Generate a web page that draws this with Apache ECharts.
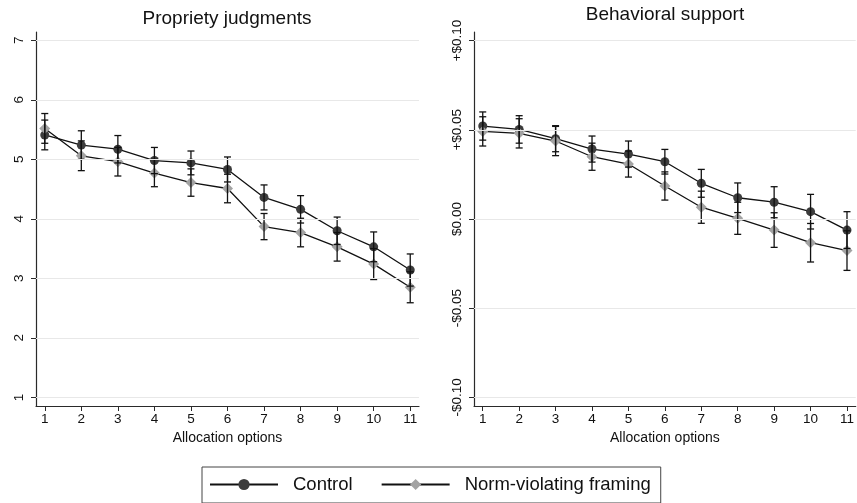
<!DOCTYPE html>
<html>
<head>
<meta charset="utf-8">
<script src="https://cdn.jsdelivr.net/npm/echarts@6/dist/echarts.min.js"></script>
<style>
html,body{margin:0;padding:0;background:#fff;}
#chart{width:857px;height:503px;}
</style>
</head>
<body>
<div id="chart"></div>
<script>
// ---- data ----
var categories = [1,2,3,4,5,6,7,8,9,10,11];
var xTicks = [1,2,3,4,5,6,7,8,9,10,11];
var propTicks = [1,2,3,4,5,6,7];
var behavTicks = [-0.10,-0.05,0,0.05,0.10];

var propCtrl   = [5.41,5.24,5.17,4.98,4.94,4.83,4.36,4.16,3.80,3.53,3.14];
var propCtrlLo = [5.16,5.00,4.94,4.76,4.74,4.62,4.15,3.93,3.57,3.28,2.87];
var propCtrlHi = [5.66,5.48,5.40,5.20,5.14,5.04,4.57,4.39,4.03,3.78,3.41];
var propNorm   = [5.52,5.06,4.96,4.77,4.61,4.51,3.87,3.77,3.53,3.24,2.85];
var propNormLo = [5.27,4.81,4.72,4.54,4.38,4.27,3.65,3.53,3.29,2.98,2.59];
var propNormHi = [5.77,5.31,5.20,5.00,4.84,4.75,4.09,4.01,3.77,3.50,3.11];

var behCtrl   = [0.0521,0.0502,0.0450,0.0392,0.0364,0.0321,0.0200,0.0119,0.0094,0.0041,-0.0062];
var behCtrlLo = [0.0442,0.0425,0.0377,0.0319,0.0291,0.0252,0.0122,0.0036,0.0007,-0.0056,-0.0165];
var behCtrlHi = [0.0600,0.0579,0.0523,0.0465,0.0437,0.0390,0.0278,0.0202,0.0181,0.0138,0.0041];
var behNorm   = [0.0491,0.0480,0.0437,0.0349,0.0308,0.0185,0.0066,0.0004,-0.0062,-0.0133,-0.0177];
var behNormLo = [0.0409,0.0398,0.0355,0.0273,0.0235,0.0106,-0.0024,-0.0086,-0.0159,-0.0241,-0.0288];
var behNormHi = [0.0573,0.0562,0.0519,0.0425,0.0381,0.0264,0.0156,0.0094,0.0035,-0.0025,-0.0066];

var seriesNames = ['Control','Norm-violating framing'];
var titles = ['Propriety judgments','Behavioral support'];
var xName = 'Allocation options';

// ---- styling ----
var FONT = '"Liberation Sans", Arial, sans-serif';
var CTRL_COLOR = '#3c3c3c';
var NORM_COLOR = '#a3a3a3';
var AXIS_COLOR = '#2a2a2a';
var GRID_COLOR = '#e8e8e8';

function pairs(xs, ys){ return xs.map(function(x,i){ return [x, ys[i]]; }); }
function triples(xs, lo, hi){ return xs.map(function(x,i){ return [x, lo[i], hi[i]]; }); }

function fmtMoney(v){
  if (Math.abs(v) < 1e-9) return '$0.00';
  return (v > 0 ? '+$' : '-$') + Math.abs(v).toFixed(2);
}

function errRender(params, api){
  var x = api.value(0);
  var lo = api.coord([x, api.value(1)]);
  var hi = api.coord([x, api.value(2)]);
  var w = 3.5;
  var st = {stroke:'#111', lineWidth:1.3};
  return {type:'group', children:[
    {type:'line', shape:{x1:lo[0],y1:lo[1],x2:hi[0],y2:hi[1]}, style:st},
    {type:'line', shape:{x1:lo[0]-w,y1:lo[1],x2:lo[0]+w,y2:lo[1]}, style:st},
    {type:'line', shape:{x1:hi[0]-w,y1:hi[1],x2:hi[0]+w,y2:hi[1]}, style:st}
  ]};
}

function xAxisCfg(gi){
  return {
    type:'value', gridIndex:gi, min:0.76, max:11.24,
    axisLine:{show:true, onZero:false, lineStyle:{color:AXIS_COLOR, width:1.2}},
    axisTick:{show:true, customValues:xTicks, length:5, lineStyle:{color:AXIS_COLOR}},
    axisLabel:{customValues:xTicks, margin:6, fontFamily:FONT, fontSize:13.5, color:'#111'},
    splitLine:{show:false},
    name:xName, nameLocation:'middle', nameGap:21,
    nameTextStyle:{fontFamily:FONT, fontSize:14, color:'#111', verticalAlign:'top'}
  };
}

function yAxisCfg(gi, min, max, ticks, fmt){
  return {
    type:'value', gridIndex:gi, min:min, max:max,
    axisLine:{show:true, onZero:false, lineStyle:{color:AXIS_COLOR, width:1.2}},
    axisTick:{show:true, customValues:ticks, length:5, lineStyle:{color:AXIS_COLOR}},
    axisLabel:{customValues:ticks, rotate:90, margin:10, fontFamily:FONT, fontSize:13.5, color:'#111',
               formatter: fmt},
    splitLine:{show:false}
  };
}

function gridLines(gi, ticks){
  return {
    type:'line', xAxisIndex:gi, yAxisIndex:gi, data:[], z:0, silent:true,
    markLine:{silent:true, symbol:'none', label:{show:false},
      lineStyle:{color:GRID_COLOR, width:1.2, type:'solid'},
      emphasis:{disabled:true},
      data: ticks.map(function(v){ return {yAxis:v}; })}
  };
}

function lineSeries(gi, name, ys, color, symbol, size){
  return {
    type:'line', name:name, xAxisIndex:gi, yAxisIndex:gi,
    data: pairs(categories, ys), symbol:symbol, symbolSize:size,
    lineStyle:{color:'#111', width:1.3}, itemStyle:{color:color},
    z:2, animation:false
  };
}

function errSeries(gi, lo, hi){
  return {
    type:'custom', xAxisIndex:gi, yAxisIndex:gi, renderItem:errRender,
    data: triples(categories, lo, hi), z:3, silent:true, animation:false
  };
}

var chart = echarts.init(document.getElementById('chart'), null, {renderer:'canvas'});
chart.setOption({
  animation:false,
  backgroundColor:'#fff',
  title:[
    {text:titles[0], left:227, top:9, textAlign:'center', padding:0,
     textStyle:{fontFamily:FONT, fontSize:19, fontWeight:'normal', color:'#111'}},
    {text:titles[1], left:665, top:5, textAlign:'center', padding:0,
     textStyle:{fontFamily:FONT, fontSize:19, fontWeight:'normal', color:'#111'}}
  ],
  legend:{
    data:seriesNames, left:202, top:467,
    orient:'horizontal',
    itemWidth:68, itemHeight:14, itemGap:28,
    padding:[8,10,9,7],
    borderColor:'#444', borderWidth:1,
    textStyle:{fontFamily:FONT, fontSize:18.5, color:'#111', padding:[0,0,0,10]},
    selectedMode:false
  },
  grid:[
    {left:36, right:438, top:32, bottom:97},
    {left:474, right:0, top:32, bottom:97}
  ],
  xAxis:[xAxisCfg(0), xAxisCfg(1)],
  yAxis:[
    yAxisCfg(0, 0.855, 7.14, propTicks, function(v){ return String(Math.round(v)); }),
    yAxisCfg(1, -0.1048, 0.1048, behavTicks, fmtMoney)
  ],
  series:[
    gridLines(0, propTicks),
    gridLines(1, behavTicks),
    lineSeries(0, seriesNames[0], propCtrl, CTRL_COLOR, 'circle', 9),
    lineSeries(0, seriesNames[1], propNorm, NORM_COLOR, 'diamond', 11),
    errSeries(0, propCtrlLo, propCtrlHi),
    errSeries(0, propNormLo, propNormHi),
    lineSeries(1, seriesNames[0], behCtrl, CTRL_COLOR, 'circle', 9),
    lineSeries(1, seriesNames[1], behNorm, NORM_COLOR, 'diamond', 11),
    errSeries(1, behCtrlLo, behCtrlHi),
    errSeries(1, behNormLo, behNormHi)
  ]
});
</script>
</body>
</html>
